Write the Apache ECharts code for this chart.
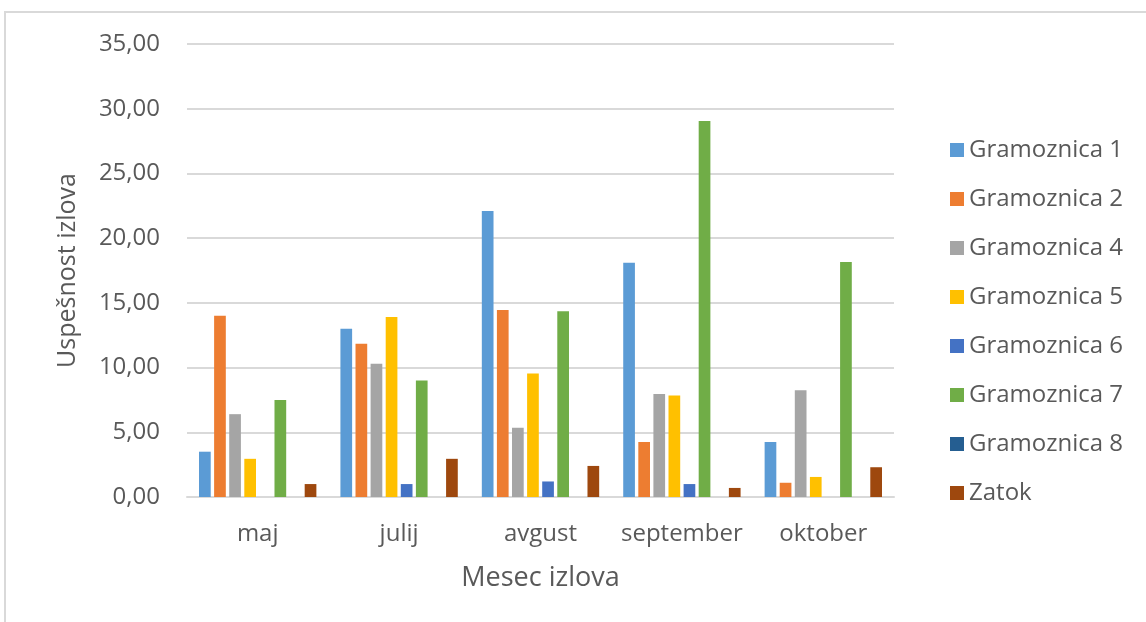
<!DOCTYPE html>
<html>
<head>
<meta charset="utf-8">
<script src="https://cdn.jsdelivr.net/npm/echarts@6/dist/echarts.min.js"></script>
<style>
  html, body { margin: 0; padding: 0; background: #ffffff; }
  #chart { width: 1146px; height: 622px; }
</style>
</head>
<body>
<div id="chart"></div>
<script>
// Months of sampling
const categories = ['maj', 'julij', 'avgust', 'september', 'oktober'];

// Catch success per site
const gramoznica1 = [3.5, 13.0, 22.1, 18.1, 4.25];
const gramoznica2 = [14.0, 11.85, 14.45, 4.25, 1.1];
const gramoznica4 = [6.4, 10.3, 5.35, 7.95, 8.25];
const gramoznica5 = [2.95, 13.9, 9.55, 7.85, 1.55];
const gramoznica6 = [0, 1.0, 1.2, 1.0, 0];
const gramoznica7 = [7.5, 9.0, 14.35, 29.05, 18.15];
const gramoznica8 = [0, 0, 0, 0, 0];
const zatok = [1.0, 2.95, 2.4, 0.7, 2.3];

const seriesNames = ['Gramoznica 1', 'Gramoznica 2', 'Gramoznica 4', 'Gramoznica 5',
                     'Gramoznica 6', 'Gramoznica 7', 'Gramoznica 8', 'Zatok'];
const seriesValues = [gramoznica1, gramoznica2, gramoznica4, gramoznica5,
                      gramoznica6, gramoznica7, gramoznica8, zatok];
const colors = ['#5B9BD5', '#ED7D31', '#A5A5A5', '#FFC000',
                '#4472C4', '#70AD47', '#255E91', '#9E480E'];

const FONT = '"Open Sans", sans-serif';
const TEXT = '#595959';
const GRID = '#d9d9d9';

const chart = echarts.init(document.getElementById('chart'), null, { renderer: 'canvas' });

chart.setOption({
  animation: false,
  backgroundColor: '#ffffff',
  color: colors,
  graphic: [{
    type: 'rect',
    shape: { x: 5, y: 12, width: 1300, height: 800 },
    style: { fill: 'none', stroke: GRID, lineWidth: 2 },
    silent: true,
    z: -1
  }],
  grid: { left: 187, right: 252, top: 44, bottom: 125 },
  legend: {
    orient: 'vertical',
    left: 945,
    top: 133,
    icon: 'rect',
    itemWidth: 14,
    itemHeight: 14,
    itemGap: 25,
    textStyle: { fontFamily: FONT, fontSize: 24, color: TEXT, lineHeight: 24 },
    data: seriesNames
  },
  xAxis: {
    type: 'category',
    data: categories,
    name: 'Mesec izlova',
    nameLocation: 'middle',
    nameGap: 68,
    nameTextStyle: { fontFamily: FONT, fontSize: 27, color: TEXT },
    axisLine: { lineStyle: { color: GRID, width: 2 } },
    axisTick: { show: false },
    axisLabel: { fontFamily: FONT, fontSize: 24, color: TEXT, margin: 25, interval: 0 }
  },
  yAxis: {
    type: 'value',
    min: 0,
    max: 35,
    interval: 5,
    name: 'Uspešnost izlova',
    nameLocation: 'middle',
    nameGap: 107,
    nameTextStyle: { fontFamily: FONT, fontSize: 25, color: TEXT },
    axisLine: { show: false },
    axisTick: { show: false },
    axisLabel: {
      fontFamily: FONT, fontSize: 24, color: TEXT, margin: 27,
      formatter: v => v.toFixed(2).replace('.', ',')
    },
    splitLine: { lineStyle: { color: GRID, width: 2 } }
  },
  series: seriesNames.map((name, i) => ({
    name: name,
    type: 'bar',
    data: seriesValues[i],
    barGap: '29%',
    barCategoryGap: '17%',
    itemStyle: { color: colors[i] }
  }))
});
</script>
</body>
</html>
